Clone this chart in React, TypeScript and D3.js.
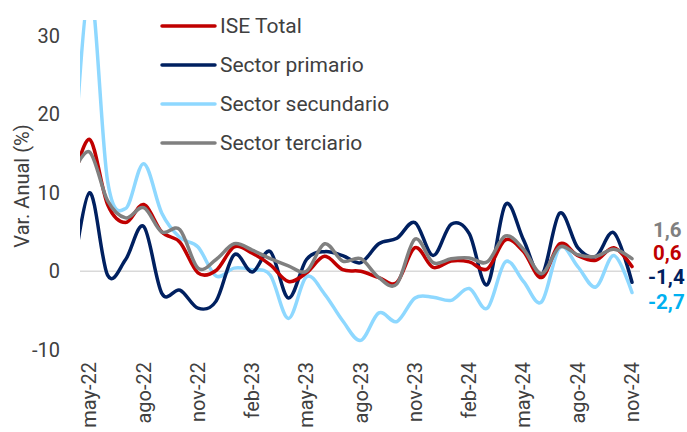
import React from "react";
import * as d3 from "d3";

const months = [
  "abr-22","may-22","jun-22","jul-22","ago-22","sep-22","oct-22","nov-22","dic-22",
  "ene-23","feb-23","mar-23","abr-23","may-23","jun-23","jul-23","ago-23","sep-23","oct-23","nov-23","dic-23",
  "ene-24","feb-24","mar-24","abr-24","may-24","jun-24","jul-24","ago-24","sep-24","oct-24","nov-24",
];
const tickLabels = ["may-22","ago-22","nov-22","feb-23","may-23","ago-23","nov-23","feb-24","may-24","ago-24","nov-24"];
const yTicks = [-10, 0, 10, 20, 30];

const iseTotal = [10.5,16.8,8.5,6.2,8.5,5.0,3.7,-0.2,0.1,3.1,2.3,0.8,-1.3,-0.2,1.9,0.2,0.0,-0.8,-1.4,3.0,0.5,1.3,1.2,0.3,4.0,2.5,-0.8,3.5,2.0,1.4,3.0,0.6];
const primario = [-2,10,-0.5,1.5,5.7,-2.8,-2.4,-4.7,-3.8,2.1,-0.1,2.5,-3.4,1.5,2.5,2.0,1.1,3.5,4.2,6.2,2.0,6.0,4.8,-1.7,8.5,4.0,-0.5,7.4,3.0,1.9,4.9,-1.4];
const secundario = [8,36,11.5,8,13.7,7.4,4.3,3.1,-0.6,0.4,0.2,-0.5,-6,-0.7,-2.9,-6.3,-8.8,-5.3,-6.4,-3.4,-3.3,-3.7,-2.2,-4.7,1.2,-1.3,-3.9,3.0,0.6,-2.0,2.0,-2.7];
const terciario = [12,15.2,9,6.8,8.1,5.0,5.3,0.4,1.5,3.5,2.7,1.6,0.7,0.0,3.5,1.3,1.6,-0.8,-1.6,4.1,1.1,1.6,1.7,1.2,4.5,2.8,-0.3,3.1,2.1,1.9,2.8,1.6];

const seriesNames = ["ISE Total", "Sector primario", "Sector secundario", "Sector terciario"];
const seriesValues = [iseTotal, primario, secundario, terciario];
const lineColors = ["#C00000", "#002060", "#8ED8FF", "#808080"];
const labelColors = ["#C00000", "#002060", "#00B0F0", "#808080"];

const W = 687, H = 432;
const FONT = "Roboto, 'Noto Sans', sans-serif";

export default function App() {
  const x = d3.scalePoint<string>().domain(months).range([71.4, 632]);
  const y = d3.scaleLinear().domain([-10, 32]).range([349.8, 20]);
  const line = d3.line<number>()
    .x((_, i) => x(months[i]) as number)
    .y((d) => y(d))
    .curve(d3.curveCardinal.tension(0));

  const last = months.length - 1;
  const endOrder = [3, 0, 1, 2];
  const endY = [230, 253, 277, 302];

  return (
    <svg width={W} height={H} style={{ display: "block", position: "absolute", left: 0, top: 0 }} fontFamily={FONT}>
      <rect width={W} height={H} fill="#fff" />
      <defs>
        <clipPath id="plot">
          <rect x={80} y={y(32)} width={570} height={y(-10) - y(32) + 2} />
        </clipPath>
      </defs>
      <line x1={80} x2={640} y1={y(0)} y2={y(0)} stroke="#D9D9D9" strokeWidth={1.5} />
      {yTicks.map((t) => (
        <text key={t} x={60} y={y(t)} textAnchor="end" dominantBaseline="central" fontSize={20} fill="#404040">
          {t}
        </text>
      ))}
      <text transform={`translate(22,186) rotate(-90)`} textAnchor="middle" dominantBaseline="central" fontSize={20} fill="#404040">
        Var. Anual (%)
      </text>
      {tickLabels.map((m) => (
        <text key={m} transform={`translate(${x(m)},362) rotate(-90)`} textAnchor="end" dominantBaseline="central" fontSize={20} fill="#404040">
          {m}
        </text>
      ))}
      <g clipPath="url(#plot)">
        {[2, 1, 0, 3].map((si) => (
          <path key={si} d={line(seriesValues[si]) || ""} fill="none" stroke={lineColors[si]} strokeWidth={3.5} strokeLinejoin="round" strokeLinecap="round" />
        ))}
      </g>
      {endOrder.map((si, k) => {
        const v = seriesValues[si][last];
        return (
          <text key={si} x={v < 0 ? 648 : 653} y={endY[k]} dominantBaseline="central" fontSize={20.5} fontWeight="bold" fill={labelColors[si]}>
            {v.toFixed(1).replace(".", ",")}
          </text>
        );
      })}
      {seriesNames.map((n, i) => (
        <g key={n}>
          <line x1={162} x2={215} y1={26 + i * 39} y2={26 + i * 39} stroke={lineColors[i]} strokeWidth={3.5} strokeLinecap="round" />
          <text x={220} y={26 + i * 39} dominantBaseline="central" fontSize={21} fill="#404040">
            {n}
          </text>
        </g>
      ))}
    </svg>
  );
}
